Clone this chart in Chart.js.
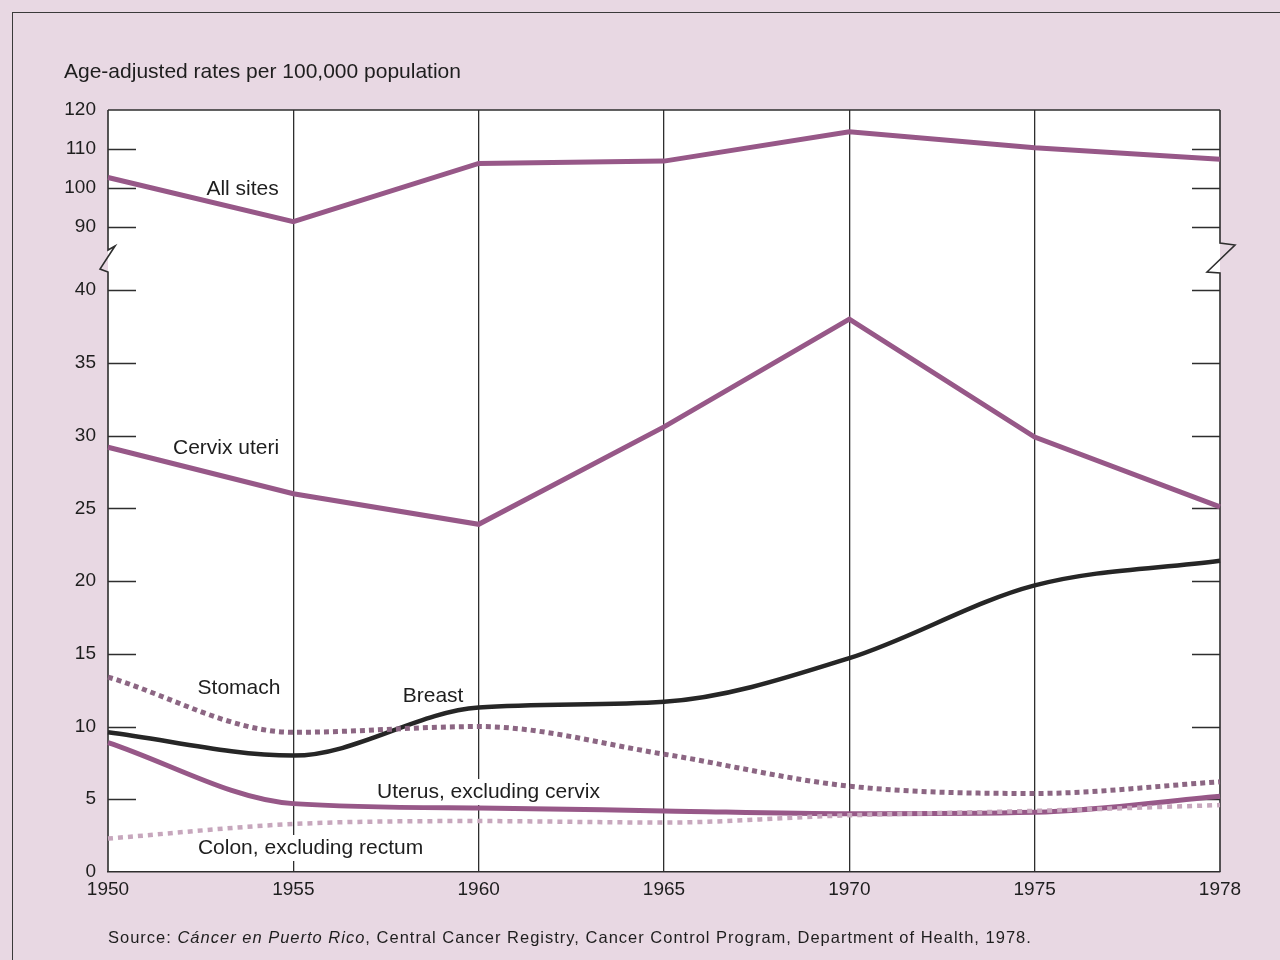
<!DOCTYPE html>
<html><head><meta charset="utf-8">
<script src="https://cdn.jsdelivr.net/npm/chart.js@4.4.1/dist/chart.umd.min.js"></script>
<style>
html,body{margin:0;padding:0;background:#e8d8e3;}
#wrap{position:relative;width:1280px;height:960px;overflow:hidden;}
#frame{position:absolute;left:12px;top:12px;width:1400px;height:1100px;border:1.5px solid #3a3a3a;box-sizing:border-box;}
canvas{position:absolute;left:0;top:0;}
</style></head><body>
<div id="wrap"><div id="frame"></div><canvas id="c" width="1280" height="960"></canvas></div>
<script>
// ---- data ----
const years = ['1950','1955','1960','1965','1970','1975','1978'];
const allSites = [102.7, 91.4, 106.3, 106.9, 114.4, 110.3, 107.4];
const cervixUteri = [29.2, 26.0, 23.9, 30.6, 38.0, 29.9, 25.1];
const breast = [9.6, 8.0, 11.3, 11.7, 14.7, 19.7, 21.4];
const stomach = [13.4, 9.6, 10.0, 8.1, 5.9, 5.4, 6.2];
const uterusExclCervix = [8.9, 4.7, 4.4, 4.2, 4.0, 4.1, 5.2];
const colonExclRectum = [2.3, 3.3, 3.5, 3.4, 3.9, 4.2, 4.6];
const lowerTicksStep = 5, upperTicksStep = 10;

const FONT = "'Liberation Sans', Arial, Helvetica, sans-serif";
const MAUVE = '#975888';

const seriesLabels = [
  {text:'All sites', x:0.726, y:99.7, axis:'yTop'},
  {text:'Cervix uteri', x:0.637, y:29.1, axis:'y'},
  {text:'Stomach', x:0.707, y:12.6, axis:'y'},
  {text:'Breast', x:1.754, y:12.1, axis:'y'},
  {text:'Uterus, excluding cervix', x:2.053, y:5.5, axis:'y', box:true},
  {text:'Colon, excluding rectum', x:1.093, y:1.65, axis:'y', box:true}
];

const decor = {
  id:'decor',
  beforeDraw(chart){
    const {ctx, chartArea:a} = chart;
    ctx.save();
    ctx.fillStyle = '#ffffff';
    ctx.fillRect(a.left, a.top, a.right-a.left, a.bottom-a.top);
    ctx.restore();
  },
  beforeDatasetsDraw(chart){
    const {ctx, chartArea:a} = chart;
    const yt = chart.scales.yTop, yl = chart.scales.y, xs = chart.scales.x;
    ctx.save();
    // series labels
    ctx.font = '21px ' + FONT;
    ctx.textAlign = 'center';
    ctx.textBaseline = 'middle';
    for (const l of seriesLabels) {
      const sc = chart.scales[l.axis];
      const px = xs.getPixelForValue(l.x), py = sc.getPixelForValue(l.y);
      if (l.box) {
        const w = ctx.measureText(l.text).width;
        ctx.fillStyle = '#ffffff';
        ctx.fillRect(px - w/2 - 4, py - 13, w + 8, 26);
      }
      ctx.fillStyle = '#1e1e1e';
      ctx.fillText(l.text, px, py);
    }
    // inward tick marks
    ctx.strokeStyle = '#2e2e2e';
    ctx.lineWidth = 1.6;
    for (const sc of [yt, yl]) {
      for (const t of sc.ticks) {
        const py = Math.round(sc.getPixelForValue(t.value)) + 0.5;
        if (Math.abs(py - a.top) < 2 || Math.abs(py - a.bottom) < 2) continue;
        ctx.beginPath();
        ctx.moveTo(a.left, py); ctx.lineTo(a.left + 28, py);
        ctx.moveTo(a.right - 28, py); ctx.lineTo(a.right, py);
        ctx.stroke();
      }
    }
    // frame with axis breaks
    const b = (yt.bottom + yl.top) / 2;
    ctx.beginPath();
    ctx.moveTo(a.left, a.top); ctx.lineTo(a.right, a.top);
    ctx.stroke();
    ctx.beginPath();
    ctx.moveTo(a.left, a.top); ctx.lineTo(a.left, b - 11);
    ctx.lineTo(a.left + 7, b - 15); ctx.lineTo(a.left - 8, b + 8);
    ctx.lineTo(a.left, b + 11); ctx.lineTo(a.left, a.bottom);
    ctx.stroke();
    ctx.beginPath();
    ctx.moveTo(a.right, a.top); ctx.lineTo(a.right, b - 18);
    ctx.lineTo(a.right + 15, b - 16); ctx.lineTo(a.right - 13, b + 11);
    ctx.lineTo(a.right, b + 12); ctx.lineTo(a.right, a.bottom);
    ctx.stroke();
    ctx.restore();
  },
  afterDraw(chart){
    const {ctx, chartArea:a} = chart;
    ctx.save();
    ctx.fillStyle = '#1e1e1e';
    ctx.textBaseline = 'middle';
    ctx.textAlign = 'left';
    ctx.font = '21px ' + FONT;
    ctx.fillText('Age-adjusted rates per 100,000 population', a.left - 44, a.top - 38);
    // source line
    let x = a.left; const y = a.bottom + 66;
    if ('letterSpacing' in ctx) ctx.letterSpacing = '1px';
    const parts = [
      ['Source: ', ''],
      ['Cáncer en Puerto Rico', 'italic '],
      [', Central Cancer Registry, Cancer Control Program, Department of Health, 1978.', '']
    ];
    for (const [t, st] of parts) {
      ctx.font = st + '16.5px ' + FONT;
      ctx.fillText(t, x, y);
      x += ctx.measureText(t).width;
    }
    ctx.restore();
  }
};

const tickFont = {family: FONT, size: 19};

new Chart(document.getElementById('c'), {
  type: 'line',
  data: {
    labels: years,
    datasets: [
      {label:'All sites', data: allSites, yAxisID:'yTop', borderColor: MAUVE, borderWidth:5, tension:0, pointRadius:0},
      {label:'Cervix uteri', data: cervixUteri, borderColor: MAUVE, borderWidth:5, tension:0, pointRadius:0},
      {label:'Stomach', data: stomach, borderColor:'#8c6683', borderWidth:5, borderDash:[5,4], cubicInterpolationMode:'monotone', pointRadius:0},
      {label:'Colon, excluding rectum', data: colonExclRectum, borderColor:'#c7a7bd', borderWidth:4.5, borderDash:[5,5], cubicInterpolationMode:'monotone', pointRadius:0},
      {label:'Uterus, excluding cervix', data: uterusExclCervix, borderColor: MAUVE, borderWidth:5, cubicInterpolationMode:'monotone', pointRadius:0},
      {label:'Breast', data: breast, borderColor:'#262626', borderWidth:4.5, cubicInterpolationMode:'monotone', pointRadius:0}
    ]
  },
  options: {
    responsive: false,
    animation: false,
    devicePixelRatio: 1,
    layout: {padding: {top:110, left:10, right:60, bottom:58}},
    plugins: {legend:{display:false}, tooltip:{enabled:false}, title:{display:false}},
    scales: {
      x: {
        type:'category',
        grid: {
          color: c => (c.index === 0 || c.index === years.length - 1) ? 'rgba(0,0,0,0)' : '#2e2e2e',
          lineWidth: 1.3, drawTicks:false
        },
        border: {display:true, color:'#2e2e2e', width:1.6},
        ticks: {color:'#1e1e1e', font:tickFont, padding:6, maxRotation:0, autoSkip:false},
        afterFit: s => { s.height = 30; }
      },
      y: {
        type:'linear', position:'left', stack:'ax', stackWeight:611,
        min:0, max:42,
        grid:{display:false}, border:{display:false},
        ticks:{stepSize: lowerTicksStep, includeBounds:false, color:'#1e1e1e', font:tickFont, padding:4},
        afterFit: s => { s.width = 98; }
      },
      yTop: {
        type:'linear', position:'left', stack:'ax', stackWeight:151,
        min:81.3, max:120,
        grid:{display:false}, border:{display:false},
        ticks:{stepSize: upperTicksStep, includeBounds:false, color:'#1e1e1e', font:tickFont, padding:4},
        afterFit: s => { s.width = 98; }
      }
    }
  },
  plugins: [decor]
});
</script>
</body></html>
